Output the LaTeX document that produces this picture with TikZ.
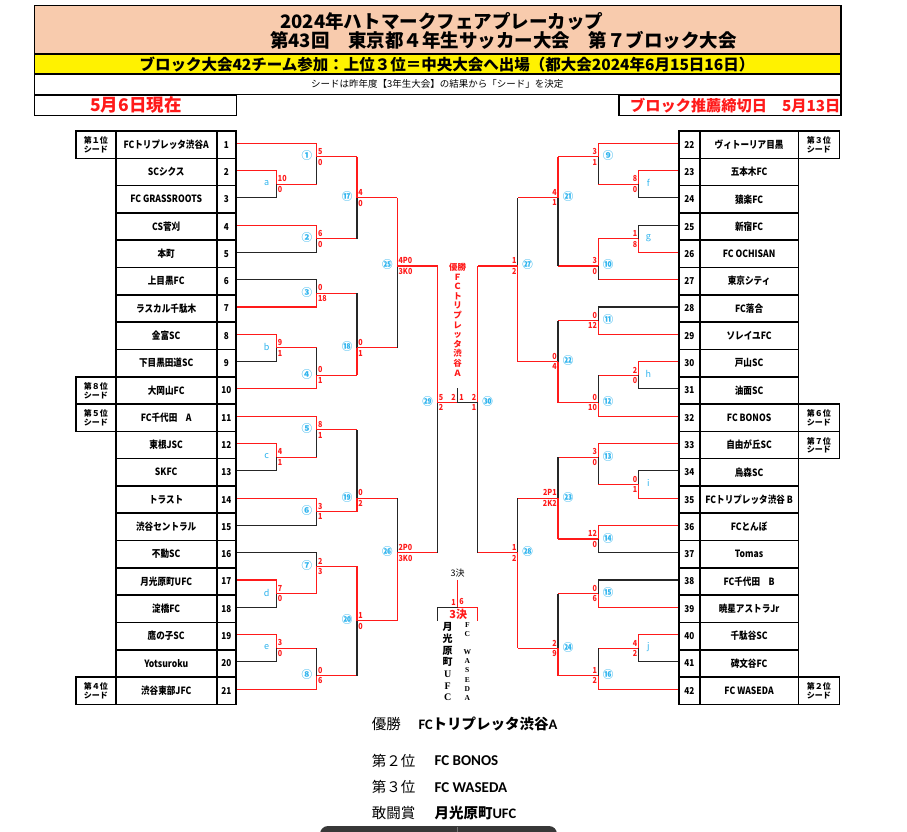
\documentclass[tikz,border=0pt]{standalone}
\usepackage{fontspec}
\setmainfont{Noto Sans CJK JP}
\newfontfamily\cond[FakeStretch=0.86]{Noto Sans CJK JP}
\newfontfamily\lat{Carlito}
\newfontfamily\ser{Liberation Serif}
\definecolor{salmon}{HTML}{F8CBAD}
\definecolor{cy}{HTML}{2FB4EE}
\definecolor{rd}{HTML}{FF1A1A}
\def\Yk#1{{143.15+13.65*(#1)}}
\def\LA{236}\def\LB{276.6}\def\LC{316.8}\def\LD{357}\def\LE{397.3}\def\LF{437.5}
\def\CC{457.5}
\def\RA{679}\def\RB{638.4}\def\RC{598.2}\def\RD{558}\def\RE{517.7}\def\RF{477.5}
\newcommand\ltr[1]{{\mdseries\fontsize{9}{9}\selectfont #1}}
\tikzset{
  rl/.style={draw=rd,line width=1.1pt},
  bl/.style={draw=black!85,line width=1.1pt},
  cell/.style={draw=black,line width=1.6pt},
  hdr/.style={draw=black,line width=1.4pt},
  scr/.style={font=\cond\bfseries\fontsize{8.3}{8.3}\selectfont,text=rd,inner xsep=0.8pt,inner ysep=2pt},
  cnum/.style={font=\bfseries\fontsize{10.5}{10.5}\selectfont,text=cy,inner sep=0pt},
  tname/.style={font=\cond\bfseries\fontsize{10}{10}\selectfont,inner sep=0pt},
  tnum/.style={font=\cond\bfseries\fontsize{9.5}{9.5}\selectfont,inner sep=0pt},
  seedlab/.style={font=\bfseries\fontsize{8}{8.6}\selectfont,align=center,inner sep=0pt},
}
% match: xs-top, xs-bot, xv, ktop, kbot, kjunction, top style, bottom style, winner t/b
\newcommand\mt[9]{%
  \draw[#7] (#1,\Yk{#4}) -- (#3,\Yk{#4});
  \draw[#8] (#2,\Yk{#5}) -- (#3,\Yk{#5});
  \if t#9
    \draw[bl] (#3,\Yk{#6}) -- (#3,\Yk{#5});
    \draw[rl] (#3,\Yk{#4}) -- (#3,\Yk{#6});
  \else
    \draw[bl] (#3,\Yk{#4}) -- (#3,\Yk{#6});
    \draw[rl] (#3,\Yk{#6}) -- (#3,\Yk{#5});
  \fi}
\newcommand\scL[6]{%
  \node[scr,anchor=south west] (#6t) at ({#1+0.3},{143.15+13.65*(#2)}) {#3};
  \node[scr,anchor=north west] (#6b) at ({#1+0.3},{143.15+13.65*(#2)}) {#4};
  \node[cnum] (#6) at ({#1-10},{143.15+13.65*(#2)-1}) {#5};}
\newcommand\scR[6]{%
  \node[scr,anchor=south east] (#6t) at ({#1-0.3},{143.15+13.65*(#2)}) {#3};
  \node[scr,anchor=north east] (#6b) at ({#1-0.3},{143.15+13.65*(#2)}) {#4};
  \node[cnum] (#6) at ({#1+10},{143.15+13.65*(#2)-1}) {#5};}
\begin{document}
\begin{tikzpicture}[x=1pt,y=-1pt]
\useasboundingbox (0,0) rectangle (907,831);
\fill[white] (0,0) rectangle (907,831);
% ---------- header ----------
\fill[salmon] (34.3,5.7) rectangle (841,54);
\fill[yellow] (34.3,54) rectangle (841,74);
\draw[hdr] (34.3,5.7) rectangle (841,94.3);
\draw[hdr] (34.3,54) -- (841,54);
\draw[hdr] (34.3,74) -- (841,74);
\draw[hdr] (34.3,95) rectangle (236.7,115.7);
\draw[hdr] (619,95) rectangle (841,115.7);
\node[anchor=west,font=\bfseries\fontsize{18.5}{18.5}\selectfont,inner sep=0] (h1) at (280,21.7) {2024年ハトマークフェアプレーカップ};
\node[anchor=west,font=\bfseries\fontsize{18.5}{18.5}\selectfont,inner sep=0] (h2) at (270,40.5) {第43回　東京都４年生サッカー大会　第７ブロック大会};
\node[anchor=west,font=\bfseries\fontsize{15.5}{15.5}\selectfont,inner sep=0] (h3) at (139.3,64.3) {ブロック大会42チーム参加：上位３位＝中央大会へ出場（都大会2024年6月15日16日）};
\node[anchor=west,font=\fontsize{9.5}{9.5}\selectfont,inner sep=0] (h4) at (311,84) {シードは昨年度【3年生大会】の結果から「シード」を決定};
\node[anchor=west,font=\bfseries\fontsize{17.5}{17.5}\selectfont,text=rd,inner sep=0] (h5) at (90,105.3) {5月6日現在};
\node[anchor=west,font=\bfseries\fontsize{15.2}{15.2}\selectfont,text=rd,inner sep=0] (h6) at (630,105.3) {ブロック推薦締切日　5月13日};
% ---------- bracket lines (left) ----------
\mt{\LA}{\LA}{\LB}{2}{4}{3}{rl}{bl}{t}
\mt{\LA}{\LB}{\LC}{0}{3}{1}{rl}{rl}{t}
\mt{\LA}{\LA}{\LC}{6}{8}{7}{rl}{bl}{t}
\mt{\LC}{\LC}{\LD}{1}{7}{4}{rl}{rl}{t}
\mt{\LA}{\LA}{\LC}{10}{12}{11}{bl}{rl}{b}
\mt{\LA}{\LA}{\LB}{14}{16}{15}{rl}{bl}{t}
\mt{\LB}{\LA}{\LC}{15}{18}{17}{rl}{rl}{b}
\mt{\LC}{\LC}{\LD}{11}{17}{15}{rl}{rl}{b}
\mt{\LD}{\LD}{\LE}{4}{15}{9}{rl}{rl}{t}
\mt{\LA}{\LA}{\LB}{22}{24}{23}{rl}{bl}{t}
\mt{\LA}{\LB}{\LC}{20}{23}{21}{rl}{rl}{t}
\mt{\LA}{\LA}{\LC}{26}{28}{27}{rl}{bl}{t}
\mt{\LC}{\LC}{\LD}{21}{27}{26}{rl}{rl}{b}
\mt{\LA}{\LA}{\LB}{32}{34}{33}{rl}{bl}{t}
\mt{\LA}{\LB}{\LC}{30}{33}{31}{bl}{rl}{b}
\mt{\LA}{\LA}{\LB}{36}{38}{37}{rl}{bl}{t}
\mt{\LB}{\LA}{\LC}{37}{40}{39}{rl}{rl}{b}
\mt{\LC}{\LC}{\LD}{31}{39}{35}{rl}{rl}{t}
\mt{\LD}{\LD}{\LE}{26}{35}{30}{rl}{rl}{b}
\mt{\LE}{\LE}{\LF}{9}{30}{19}{rl}{rl}{t}
% ---------- bracket lines (right) ----------
\mt{\RA}{\RA}{\RB}{2}{4}{3}{rl}{bl}{t}
\mt{\RA}{\RB}{\RC}{0}{3}{1}{rl}{rl}{t}
\mt{\RA}{\RA}{\RB}{6}{8}{7}{bl}{rl}{b}
\mt{\RB}{\RA}{\RC}{7}{10}{9}{rl}{rl}{t}
\mt{\RC}{\RC}{\RD}{1}{9}{4}{rl}{rl}{t}
\mt{\RA}{\RA}{\RC}{12}{14}{13}{bl}{rl}{b}
\mt{\RA}{\RA}{\RB}{16}{18}{17}{rl}{bl}{t}
\mt{\RB}{\RA}{\RC}{17}{20}{19}{rl}{rl}{b}
\mt{\RC}{\RC}{\RD}{13}{19}{16}{rl}{rl}{b}
\mt{\RD}{\RD}{\RE}{4}{16}{9}{rl}{rl}{b}
\mt{\RA}{\RA}{\RB}{24}{26}{25}{bl}{rl}{b}
\mt{\RA}{\RB}{\RC}{22}{25}{23}{rl}{rl}{t}
\mt{\RA}{\RA}{\RC}{28}{30}{29}{rl}{bl}{t}
\mt{\RC}{\RC}{\RD}{23}{29}{26}{rl}{rl}{b}
\mt{\RA}{\RA}{\RC}{32}{34}{33}{bl}{rl}{b}
\mt{\RA}{\RA}{\RB}{36}{38}{37}{rl}{bl}{t}
\mt{\RB}{\RA}{\RC}{37}{40}{39}{rl}{rl}{b}
\mt{\RC}{\RC}{\RD}{33}{39}{37}{rl}{rl}{b}
\mt{\RD}{\RD}{\RE}{26}{37}{30}{rl}{rl}{b}
\mt{\RE}{\RE}{\RF}{9}{30}{19}{rl}{rl}{t}
% ---------- final & third place ----------
\coordinate (fin) at (\CC,\Yk{19});
\coordinate (fintop) at (\CC,388.3);
\draw[rl] (\LF,\Yk{19}) -- (fin);
\draw[bl] (fin) -- (\RF,\Yk{19});
\draw[bl] (fin) -- (fintop);
\node[scr,anchor=south east] (fl) at ({\CC-0.8},\Yk{19}) {2};
\node[scr,anchor=south west] (fr) at ({\CC+0.8},\Yk{19}) {1};
\node[font=\bfseries\fontsize{8.5}{9.6}\selectfont,text=rd,align=center,inner sep=0] (win) at (\CC,319.6) {優勝\\Ｆ\\Ｃ\\ト\\リ\\プ\\レ\\ッ\\タ\\渋\\谷\\Ａ};
\coordinate (tp) at (\CC,\Yk{34});
\coordinate (tptop) at (\CC,\Yk{32});
\draw[bl] (\LF,\Yk{34}) -- (tp);
\draw[bl] (\LF,\Yk{34}) -- (\LF,\Yk{35});
\draw[rl] (tp) -- (\RF,\Yk{34});
\draw[rl] (\RF,\Yk{34}) -- (\RF,\Yk{35});
\draw[rl] (tptop) -- (tp);
\node[font=\fontsize{9}{9}\selectfont,inner sep=0] (tplab) at (457.7,572.7) {3決};
\node[scr,anchor=south east] (tpl) at ({\CC-0.8},\Yk{34}) {1};
\node[scr,anchor=south west] (tpr) at ({\CC+0.8},\Yk{34}) {6};
\node[font=\bfseries\fontsize{11}{11}\selectfont,text=rd,inner sep=0] (tpred) at (458.3,614) {3決};
\node[font=\bfseries\fontsize{10}{11.67}\selectfont,align=center,inner sep=0] (tpa) at (447.7,661.7) {月\\光\\原\\町\\{\ser U}\\{\ser F}\\{\ser C}};
\node[font=\ser\bfseries\fontsize{7.5}{9.08}\selectfont,align=center,inner sep=0] (tpb) at (467.3,661.4) {F\\C\\\mbox{}\\W\\A\\S\\E\\D\\A};
% ---------- scores and labels ----------
\scL{\LB}{3}{10}{0}{\ltr{a}}{ma}
\scL{\LC}{1}{5}{0}{①}{m1}
\scL{\LC}{7}{6}{0}{②}{m2}
\scL{\LD}{4}{4}{0}{⑰}{m17}
\scL{\LC}{11}{0}{18}{③}{m3}
\scL{\LB}{15}{9}{1}{\ltr{b}}{mb}
\scL{\LC}{17}{0}{1}{④}{m4}
\scL{\LD}{15}{0}{1}{⑱}{m18}
\scL{\LE}{9}{4P0}{3K0}{㉕}{m25}
\scL{\LB}{23}{4}{1}{\ltr{c}}{mc}
\scL{\LC}{21}{8}{1}{⑤}{m5}
\scL{\LC}{27}{3}{1}{⑥}{m6}
\scL{\LD}{26}{0}{2}{⑲}{m19}
\scL{\LB}{33}{7}{0}{\ltr{d}}{md}
\scL{\LC}{31}{2}{3}{⑦}{m7}
\scL{\LB}{37}{3}{0}{\ltr{e}}{me}
\scL{\LC}{39}{0}{6}{⑧}{m8}
\scL{\LD}{35}{1}{0}{⑳}{m20}
\scL{\LE}{30}{2P0}{3K0}{㉖}{m26}
\scL{\LF}{19}{5}{2}{㉙}{m29}
\scR{\RB}{3}{8}{0}{\ltr{f}}{mf}
\scR{\RC}{1}{3}{1}{⑨}{m9}
\scR{\RB}{7}{1}{8}{\ltr{g}}{mg}
\scR{\RC}{9}{3}{0}{⑩}{m10}
\scR{\RD}{4}{4}{1}{㉑}{m21}
\scR{\RC}{13}{0}{12}{⑪}{m11}
\scR{\RB}{17}{2}{0}{\ltr{h}}{mh}
\scR{\RC}{19}{0}{10}{⑫}{m12}
\scR{\RD}{16}{0}{4}{㉒}{m22}
\scR{\RE}{9}{1}{2}{㉗}{m27}
\scR{\RB}{25}{0}{1}{\ltr{i}}{mi}
\scR{\RC}{23}{3}{0}{⑬}{m13}
\scR{\RC}{29}{12}{0}{⑭}{m14}
\scR{\RD}{26}{2P1}{2K2}{㉓}{m23}
\scR{\RC}{33}{0}{6}{⑮}{m15}
\scR{\RB}{37}{4}{2}{\ltr{j}}{mj}
\scR{\RC}{39}{1}{2}{⑯}{m16}
\scR{\RD}{37}{2}{9}{㉔}{m24}
\scR{\RE}{30}{1}{2}{㉘}{m28}
\scR{\RF}{19}{2}{1}{㉚}{m30}
% ---------- team boxes ----------
\foreach \i/\nm in {1/{FCトリプレッタ渋谷A},2/{SCシクス},3/{FC GRASSROOTS},4/{CS菅刈},5/{本町},6/{上目黒FC},7/{ラスカル千駄木},8/{金富SC},9/{下目黒田道SC},10/{大岡山FC},11/{FC千代田　A},12/{東根JSC},13/{SKFC},14/{トラスト},15/{渋谷セントラル},16/{不動SC},17/{月光原町UFC},18/{淀橋FC},19/{鷹の子SC},20/{Yotsuroku},21/{渋谷東部JFC}}{
  \pgfmathsetmacro\tp{131+(\i-1)*27.3}
  \draw[cell] (115.7,\tp) rectangle (216.7,{\tp+27.3});
  \draw[cell] (216.7,\tp) rectangle (236,{\tp+27.3});
  \node[tname] (L\i) at (166.2,{\tp+13.65}) {\nm};
  \node[tnum] (Ln\i) at (226.35,{\tp+13.65}) {\i};
}
\foreach \r/\n/\nm in {1/22/{ヴィトーリア目黒},2/23/{五本木FC},3/24/{猿楽FC},4/25/{新宿FC},5/26/{FC OCHISAN},6/27/{東京シティ},7/28/{FC落合},8/29/{ソレイユFC},9/30/{戸山SC},10/31/{油面SC},11/32/{FC BONOS},12/33/{自由が丘SC},13/34/{烏森SC},14/35/{FCトリプレッタ渋谷 B},15/36/{FCとんぼ},16/37/{Tomas},17/38/{FC千代田　B},18/39/{暁星アストラJr},19/40/{千駄谷SC},20/41/{碑文谷FC},21/42/{FC WASEDA}}{
  \pgfmathsetmacro\tp{131+(\r-1)*27.3}
  \draw[cell] (679,\tp) rectangle (699.7,{\tp+27.3});
  \draw[cell] (699.7,\tp) rectangle (798.5,{\tp+27.3});
  \node[tnum] (Rn\n) at (689.35,{\tp+13.65}) {\n};
  \node[tname] (R\n) at (749.1,{\tp+13.65}) {\nm};
}
\foreach \r/\s in {1/第１位,10/第８位,11/第５位,21/第４位}{
  \pgfmathsetmacro\tp{131+(\r-1)*27.3}
  \draw[cell] (76,\tp) rectangle (115.7,{\tp+27.3});
  \node[seedlab] (SL\r) at (95.85,{\tp+13.9}) {\s\\シード};
}
\foreach \r/\s in {1/第３位,11/第６位,12/第７位,21/第２位}{
  \pgfmathsetmacro\tp{131+(\r-1)*27.3}
  \draw[cell] (798.5,\tp) rectangle (839.3,{\tp+27.3});
  \node[seedlab] (SR\r) at (818.9,{\tp+13.9}) {\s\\シード};
}
% ---------- results ----------
\node[anchor=west,font=\fontsize{14.5}{14.5}\selectfont,inner sep=0] (r1a) at (371.7,724) {優勝};
\node[anchor=west,font=\bfseries\fontsize{14.5}{14.5}\selectfont,inner sep=0] (r1b) at (418.3,724) {{\lat FC}トリプレッタ渋谷{\lat A}};
\node[anchor=west,font=\fontsize{14.5}{14.5}\selectfont,inner sep=0] (r2a) at (371.7,760.7) {第２位};
\node[anchor=west,font=\lat\bfseries\fontsize{15}{15}\selectfont,inner sep=0] (r2b) at (434.3,760.7) {FC BONOS};
\node[anchor=west,font=\fontsize{14.5}{14.5}\selectfont,inner sep=0] (r3a) at (371.7,787.3) {第３位};
\node[anchor=west,font=\lat\bfseries\fontsize{15}{15}\selectfont,inner sep=0] (r3b) at (434.3,787.3) {FC WASEDA};
\node[anchor=west,font=\fontsize{14.5}{14.5}\selectfont,inner sep=0] (r4a) at (371.7,813.3) {敢闘賞};
\node[anchor=west,font=\bfseries\fontsize{14.5}{14.5}\selectfont,inner sep=0] (r4b) at (434.3,813.3) {月光原町{\lat UFC}};
% ---------- bottom bar ----------
\fill[black!78,rounded corners=8pt] (320,826) rectangle (557,850);
\draw[black!55,line width=0.8pt] (457,827) -- (457,850);
\end{tikzpicture}
\end{document}
